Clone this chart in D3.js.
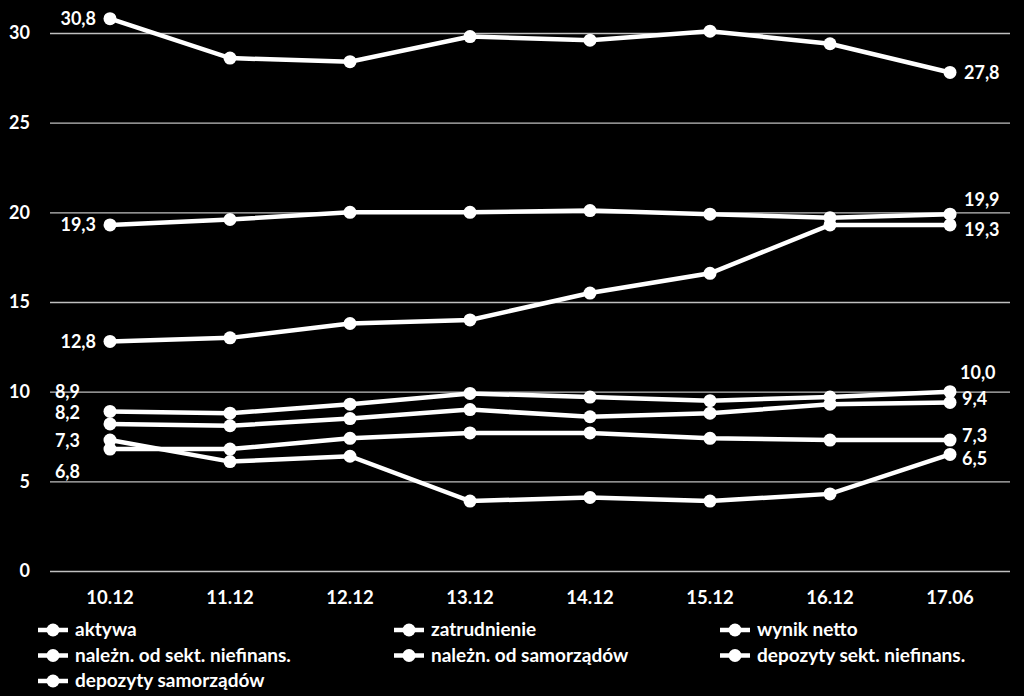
<html>
<head>
    <meta charset="utf-8">
    <title>Wskazniki</title>
    <script src="https://d3js.org/d3.v7.min.js"></script>
    <style>
        body { margin: 0; background: #000; }
        text { font-family: Lato, "Open Sans", sans-serif; font-weight: bold; fill: #fff; }
    </style>
</head>
<body>
    <script>
        const categories = ['10.12', '11.12', '12.12', '13.12', '14.12', '15.12', '16.12', '17.06']
        const seriesNames = ['aktywa', 'zatrudnienie', 'wynik netto', 'należn. od sekt. niefinans.',
            'należn. od samorządów', 'depozyty sekt. niefinans.', 'depozyty samorządów']

        const aktywa = [30.8, 28.6, 28.4, 29.8, 29.6, 30.1, 29.4, 27.8]
        const zatrudnienie = [19.3, 19.6, 20.0, 20.0, 20.1, 19.9, 19.7, 19.9]
        const wynikNetto = [12.8, 13.0, 13.8, 14.0, 15.5, 16.6, 19.3, 19.3]
        const naleznSekt = [8.9, 8.8, 9.3, 9.9, 9.7, 9.5, 9.7, 10.0]
        const naleznSamorz = [8.2, 8.1, 8.5, 9.0, 8.6, 8.8, 9.3, 9.4]
        const depozytySekt = [7.3, 6.1, 6.4, 3.9, 4.1, 3.9, 4.3, 6.5]
        const depozytySamorz = [6.8, 6.8, 7.4, 7.7, 7.7, 7.4, 7.3, 7.3]
        const yTicks = [0, 5, 10, 15, 20, 25, 30]

        const seriesValues = [aktywa, zatrudnienie, wynikNetto, naleznSekt, naleznSamorz, depozytySekt, depozytySamorz]

        // label nudges (px) for first / last value labels
        const firstNudge = [[-14, 0], [-14, 0], [-14, 0], [-30, -20], [-30, -11], [-30, 1], [-30, 23]]
        const lastNudge = [[14, 0], [14, -14], [14, 5], [10, -19], [12, -4], [12, 4], [12, -4]]

        const svg = d3.select('body').append('svg')
            .attr('width', 1024)
            .attr('height', 696)
            .style('background', '#000')

        const x = d3.scaleBand().domain(categories).range([50, 1010])
        const y = d3.scaleLinear().domain([0, 30]).range([571, 33])
        const cx = d => x(d) + x.bandwidth() / 2

        const fmt = d3.formatLocale({ decimal: ',', thousands: ' ', grouping: [3], currency: ['', ''] }).format('.1f')

        const yAxis = svg.append('g')
            .attr('transform', 'translate(50,0)')
            .call(d3.axisLeft(y).tickValues(yTicks).tickSize(-960).tickPadding(20))
        yAxis.select('.domain').remove()
        yAxis.selectAll('line').attr('stroke', '#bfbfbf').attr('stroke-width', 1.3)
        yAxis.selectAll('text').style('font-size', '18px').attr('fill', '#fff')

        const xAxis = svg.append('g')
            .attr('transform', 'translate(0,571)')
            .call(d3.axisBottom(x).tickSize(0).tickPadding(20))
        xAxis.select('.domain').remove()
        xAxis.selectAll('text').style('font-size', '18.5px').attr('fill', '#fff')

        const line = d3.line()
            .x((d, i) => cx(categories[i]))
            .y(d => y(d))

        seriesValues.forEach((vals, s) => {
            svg.append('path')
                .attr('d', line(vals))
                .attr('fill', 'none')
                .attr('stroke', '#fff')
                .attr('stroke-width', 4.5)

            svg.selectAll(null)
                .data(vals)
                .enter()
                .append('circle')
                .attr('cx', (d, i) => cx(categories[i]))
                .attr('cy', d => y(d))
                .attr('r', 6.5)
                .attr('fill', '#fff')

            const last = vals.length - 1
            svg.append('text')
                .attr('x', cx(categories[0]) + firstNudge[s][0])
                .attr('y', y(vals[0]) + firstNudge[s][1])
                .attr('dy', '0.35em')
                .attr('text-anchor', 'end')
                .style('font-size', '18px')
                .text(fmt(vals[0]))

            svg.append('text')
                .attr('x', cx(categories[last]) + lastNudge[s][0])
                .attr('y', y(vals[last]) + lastNudge[s][1])
                .attr('dy', '0.35em')
                .style('font-size', '18px')
                .text(fmt(vals[last]))
        })

        // legend
        const legend = svg.append('g')
        const colX = [28, 384, 710]
        seriesNames.forEach((name, i) => {
            const gx = colX[i % 3]
            const gy = 630 + Math.floor(i / 3) * 25.5
            const item = legend.append('g').attr('transform', 'translate(' + gx + ',' + gy + ')')
            item.append('line')
                .attr('x1', 10).attr('x2', 40)
                .attr('y1', 0).attr('y2', 0)
                .attr('stroke', '#fff').attr('stroke-width', 4.5)
            item.append('circle')
                .attr('cx', 25).attr('cy', 0).attr('r', 6.5).attr('fill', '#fff')
            item.append('text')
                .attr('x', 47).attr('dy', '0.33em')
                .style('font-size', '19px')
                .text(name)
        })
    </script>
</body>
</html>
